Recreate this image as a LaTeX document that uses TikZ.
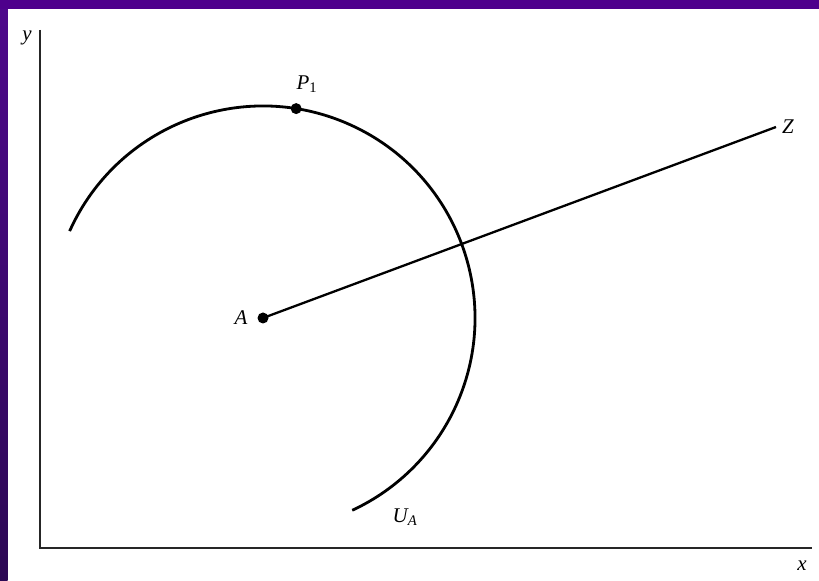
\documentclass[tikz,border=0pt]{standalone}
\usepackage{fontspec}
\setmainfont{Liberation Serif}
\usetikzlibrary{calc}
\definecolor{purpletop}{RGB}{78,8,140}
\definecolor{purplebot}{RGB}{44,8,84}
\definecolor{purpleband}{RGB}{78,0,140}
\begin{document}
\begin{tikzpicture}[x=1bp,y=1bp,
  lab/.style={font=\fontsize{21}{24}\selectfont\itshape, inner sep=0pt},
  curve/.style={line width=2.8bp, black},
  axis/.style={line width=2.8bp, black!85},
  dot/.style={circle, fill=black, inner sep=0pt, minimum size=11bp}]
\useasboundingbox (0,0) rectangle (819,581);
\fill[white] (0,0) rectangle (819,581);
% purple frame
\shade[top color=purpletop, bottom color=purplebot] (0,0) rectangle (7.5,581);
\fill[purpleband] (0,572) rectangle (819,581);
% axes
\coordinate (O) at (40,33);
\coordinate (ytop) at (40,551);
\coordinate (xend) at (812,33);
\draw[axis] (ytop) -- (O) -- (xend);
\node[lab] (ylab) at (27,543) {y};
\node[lab] (xlab) at (802,15) {x};
% circle arc U_A
\coordinate (A) at (263,263);
\draw[curve] (A) ++(155.8:212) arc[start angle=155.8, end angle=-65.1, radius=212];
% line A--Z
\coordinate (Zend) at (776,454);
\draw[line width=2.3bp] (A) -- (Zend);
\node[dot] (Adot) at (A) {};
\node[dot] (P1dot) at ($(A)+(81:212)$) {};
% labels
\node[lab] (Alab) at (241,263) {A};
\node[lab, anchor=west] (Zlab) at (782,454) {Z};
\node[lab] (P1lab) at (307,497) {P\textsubscript{\upshape 1}};
\node[lab] (UAlab) at (405,64) {U\textsubscript{A}};
\end{tikzpicture}
\end{document}
